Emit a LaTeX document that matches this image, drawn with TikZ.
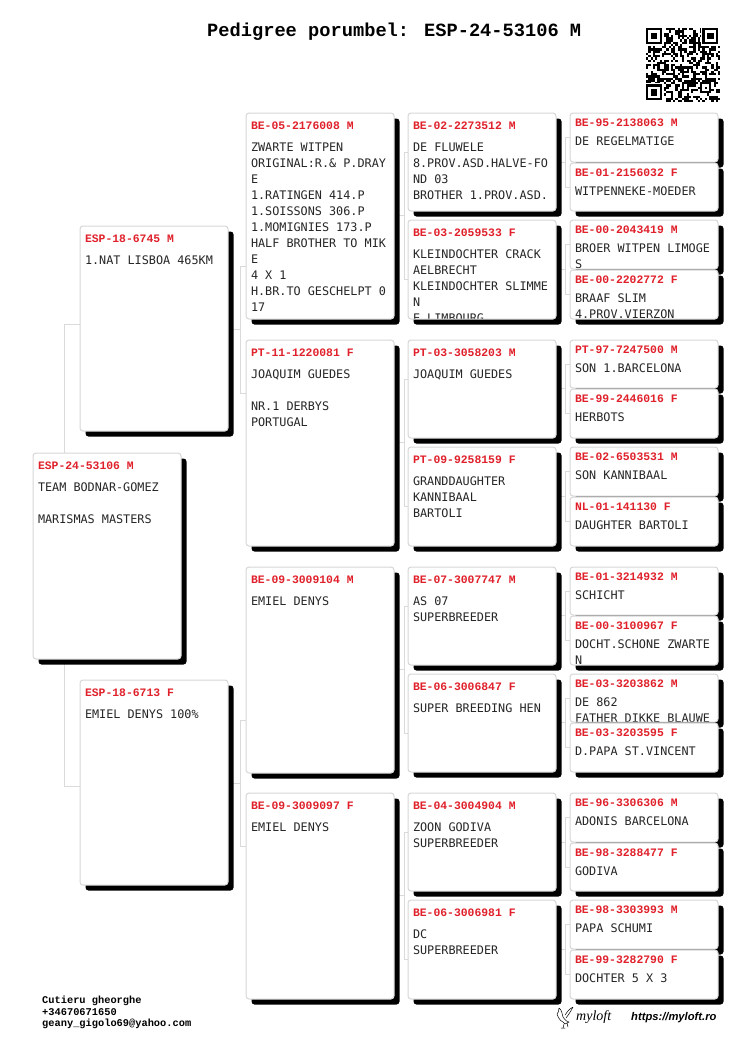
\documentclass[tikz,border=0pt]{standalone}
\usepackage{fontspec}
\usetikzlibrary{shadows,calc,backgrounds}
\newfontfamily\infofont{DejaVu Sans Mono}
\newfontfamily\ringfont{Liberation Mono}
\newfontfamily\urlfont{Liberation Sans}
\newfontfamily\logofont{Liberation Serif}
\definecolor{cardline}{HTML}{D6D6D6}
\definecolor{linkline}{HTML}{DADADA}
\definecolor{ringred}{HTML}{E0202A}
\tikzset{
    card/.style={rectangle, draw=cardline, fill=white, rounded corners=3pt, line width=1pt, minimum width=148pt, anchor=north west, inner sep=0pt, general shadow={fill=black, shadow xshift=5.5pt, shadow yshift=-5.5pt}},
    ringtext/.style={anchor=base west, inner sep=0pt, minimum width=0pt, minimum height=0pt, draw=none, fill=none, text=ringred, font=\ringfont\bfseries\fontsize{11.4}{14}\selectfont},
    infotext/.style={anchor=north west, inner sep=0pt, minimum width=0pt, minimum height=0pt, draw=none, fill=none, align=left, text=black!85, font=\infofont\fontsize{11.8}{16}\selectfont},
    titletext/.style={anchor=base west, inner sep=0pt, font=\ringfont\bfseries\fontsize{18.7}{22}\selectfont},
    contacttext/.style={anchor=north west, inner sep=0pt, align=left, font=\ringfont\bfseries\fontsize{10.35}{11.5}\selectfont},
    link/.style={draw=linkline, line width=0.9pt},
    logoline/.style={draw=black, line width=0.5pt, line cap=round, line join=round}
}
% name, x, y, height, ring, info
\newcommand{\pedcard}[6]{
    \node [card, minimum height=#4pt-1pt, path picture={
        \node [ringtext] (#1ring) at ($(path picture bounding box.north west)+(4.5,\ringdrop)$) {#5};
        \node [infotext] (#1info) at ($(path picture bounding box.north west)+(4.5,\infodrop)$) {\rule{0pt}{10pt}#6};
    }] (#1) at (#2-0.5,#3-0.5) {};
}
% parent, upper child, lower child, offset, overshoot of the bar
\newcommand{\pedlink}[5]{
    \coordinate (#1joint) at ($(#2.west)!.5!(#3.west)+(-#4,0)$);
    \draw [link] ($(#2.west)+(0,#5)$) -- ++(-#4,0) -- ($(#3.west)+(-#4,-#5)$) -- ++(#4,0);
    \draw [link] (#1joint -| #1.center) -- (#1joint);
}
\begin{document}
\begin{tikzpicture}[x=1pt, y=-1pt]
    \useasboundingbox (0,0) rectangle (750,1060);

    \node [titletext] (title) at (207,36) {Pedigree porumbel: ESP-24-53106 M};

    % qr code
    \pgfmathsetseed{53106}
    \begin{scope}[shift={(646,28)}, x=2.25pt, y=-2.25pt]
        \foreach \row in {0,...,32}
            \foreach \col in {0,...,32} {
                \pgfmathparse{rnd<0.52 ? 1 : 0}
                \ifnum\pgfmathresult=1
                    \fill [black] (\col,\row) rectangle ++(1,1);
                \fi
            }
        \foreach \fx/\fy in {0/0, 25/0, 0/25} {
            \fill [white] (\fx-0.5,\fy-0.5) rectangle ++(8.5,8.5);
            \fill [black] (\fx,\fy) rectangle ++(7,7);
            \fill [white] (\fx+1,\fy+1) rectangle ++(5,5);
            \fill [black] (\fx+2,\fy+2) rectangle ++(3,3);
        }
        \fill [black] (24,24) rectangle ++(5,5);
        \fill [white] (25,25) rectangle ++(3,3);
        \fill [black] (26,26) rectangle ++(1,1);
    \end{scope}

    \def\ringdrop{16.2}
    \def\infodrop{28}
    \pedcard{subject}{33}{453}{207}{ESP-24-53106 M}{TEAM BODNAR-GOMEZ\\ \\MARISMAS MASTERS}
    \pedcard{sire}{80}{226}{206}{ESP-18-6745 M}{1.NAT LISBOA 465KM}
    \pedcard{dam}{80}{680}{206}{ESP-18-6713 F}{EMIEL DENYS 100\%}

    \pedcard{ss}{246}{113}{207}{BE-05-2176008 M}{ZWARTE WITPEN\\ORIGINAL:R.\& P.DRAY\\E\\1.RATINGEN 414.P\\1.SOISSONS 306.P\\1.MOMIGNIES 173.P\\HALF BROTHER TO MIK\\E\\4 X 1\\H.BR.TO GESCHELPT 0\\17}
    \pedcard{sd}{246}{340}{207}{PT-11-1220081 F}{JOAQUIM GUEDES\\ \\NR.1 DERBYS\\PORTUGAL}
    \pedcard{ds}{246}{567}{207}{BE-09-3009104 M}{EMIEL DENYS}
    \pedcard{dd}{246}{793}{207}{BE-09-3009097 F}{EMIEL DENYS}

    \pedcard{sss}{408}{113}{99}{BE-02-2273512 M}{DE FLUWELE\\8.PROV.ASD.HALVE-FO\\ND 03\\BROTHER 1.PROV.ASD.}
    \pedcard{ssd}{408}{220}{100}{BE-03-2059533 F}{KLEINDOCHTER CRACK\\AELBRECHT\\KLEINDOCHTER SLIMME\\N\\E.LIMBOURG}
    \pedcard{sds}{408}{340}{99}{PT-03-3058203 M}{JOAQUIM GUEDES}
    \pedcard{sdd}{408}{447}{100}{PT-09-9258159 F}{GRANDDAUGHTER\\KANNIBAAL\\BARTOLI}
    \pedcard{dss}{408}{567}{99}{BE-07-3007747 M}{AS 07\\SUPERBREEDER}
    \pedcard{dsd}{408}{674}{99}{BE-06-3006847 F}{SUPER BREEDING HEN}
    \pedcard{dds}{408}{793}{99}{BE-04-3004904 M}{ZOON GODIVA\\SUPERBREEDER}
    \pedcard{ddd}{408}{900}{100}{BE-06-3006981 F}{DC\\SUPERBREEDER}

    \def\ringdrop{13.2}
    \def\infodrop{22}
    \pedcard{ssss}{570}{113}{50}{BE-95-2138063 M}{DE REGELMATIGE}
    \pedcard{sssd}{570}{163}{49}{BE-01-2156032 F}{WITPENNEKE-MOEDER}
    \pedcard{ssds}{570}{220}{50}{BE-00-2043419 M}{BROER WITPEN LIMOGE\\S}
    \pedcard{ssdd}{570}{270}{50}{BE-00-2202772 F}{BRAAF SLIM\\4.PROV.VIERZON}
    \pedcard{sdss}{570}{340}{49}{PT-97-7247500 M}{SON 1.BARCELONA}
    \pedcard{sdsd}{570}{389}{50}{BE-99-2446016 F}{HERBOTS}
    \pedcard{sdds}{570}{447}{50}{BE-02-6503531 M}{SON KANNIBAAL}
    \pedcard{sddd}{570}{497}{50}{NL-01-141130 F}{DAUGHTER BARTOLI}
    \pedcard{dsss}{570}{567}{49}{BE-01-3214932 M}{SCHICHT}
    \pedcard{dssd}{570}{616}{50}{BE-00-3100967 F}{DOCHT.SCHONE ZWARTE\\N}
    \pedcard{dsds}{570}{674}{49}{BE-03-3203862 M}{DE 862\\FATHER DIKKE BLAUWE}
    \pedcard{dsdd}{570}{723}{50}{BE-03-3203595 F}{D.PAPA ST.VINCENT}
    \pedcard{ddss}{570}{793}{50}{BE-96-3306306 M}{ADONIS BARCELONA}
    \pedcard{ddsd}{570}{843}{49}{BE-98-3288477 F}{GODIVA}
    \pedcard{ddds}{570}{900}{50}{BE-98-3303993 M}{PAPA SCHUMI}
    \pedcard{dddd}{570}{950}{50}{BE-99-3282790 F}{DOCHTER 5 X 3}

    \begin{scope}[on background layer]
        \pedlink{subject}{sire}{dam}{15}{-4}
        \pedlink{sire}{ss}{sd}{5}{50}
        \pedlink{dam}{ds}{dd}{5}{50}
        \pedlink{ss}{sss}{ssd}{3}{-10}
        \pedlink{sd}{sds}{sdd}{3}{-10}
        \pedlink{ds}{dss}{dsd}{3}{-10}
        \pedlink{dd}{dds}{ddd}{3}{-10}
        \pedlink{sss}{ssss}{sssd}{4}{0}
        \pedlink{ssd}{ssds}{ssdd}{4}{0}
        \pedlink{sds}{sdss}{sdsd}{4}{0}
        \pedlink{sdd}{sdds}{sddd}{4}{0}
        \pedlink{dss}{dsss}{dssd}{4}{0}
        \pedlink{dsd}{dsds}{dsdd}{4}{0}
        \pedlink{dds}{ddss}{ddsd}{4}{0}
        \pedlink{ddd}{ddds}{dddd}{4}{0}
    \end{scope}

    \node [contacttext] (contact) at (42,996) {Cutieru gheorghe\\+34670671650\\geany\_gigolo69@yahoo.com};

    % logo
    \begin{scope}[shift={(556,1007)}]
        \draw [logoline] (3,1) .. controls (6,3) and (6,7) .. (7,10) .. controls (9,13) and (11,15) .. (13,15) -- (9,17) -- (7,15) .. controls (4,14) and (2,10) .. (1,7) .. controls (2,6) and (3,4) .. (3,1);
        \draw [logoline] (9,8) .. controls (11,5) and (13,2) .. (17,0) .. controls (15,4) and (13,7) .. (10,11);
        \draw [logoline] (8,17) -- (7,21) (11,16) -- (12,20) (5,21) -- (9,21);
    \end{scope}
    \node [anchor=base west, inner sep=0pt, font=\logofont\itshape\fontsize{14}{14}\selectfont] (logoname) at (576,1020) {myloft};
    \node [anchor=base west, inner sep=0pt, font=\urlfont\bfseries\itshape\fontsize{11.2}{14}\selectfont] (logourl) at (631,1020) {https://myloft.ro};
\end{tikzpicture}
\end{document}
